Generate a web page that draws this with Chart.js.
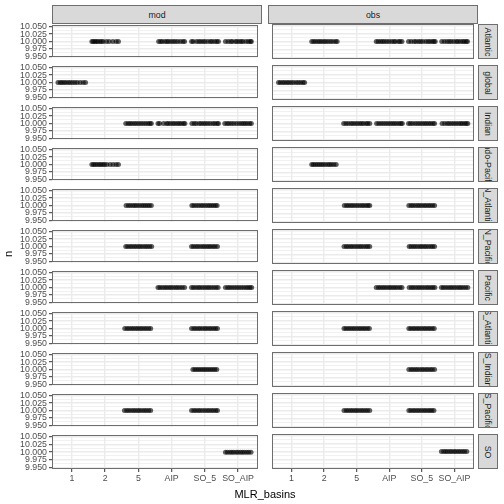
<!DOCTYPE html>
<html><head><meta charset="utf-8">
<script src="https://cdn.jsdelivr.net/npm/chart.js@4.4.1/dist/chart.umd.min.js"></script>
<style>
html,body{margin:0;padding:0;background:#fff;}
body{width:504px;height:504px;overflow:hidden;position:relative;font-family:"Liberation Sans",Arial,sans-serif;}
canvas{position:absolute;}
.strip{position:absolute;background:#d9d9d9;border:1px solid #6e6e6e;box-sizing:border-box;color:#1a1a1a;font-size:8.8px;overflow:hidden;white-space:nowrap;}
.strip span{position:absolute;left:50%;top:50%;transform:translate(-50%,-50%);}
.strip.v span{transform:translate(-50%,-50%) rotate(90deg);}
.title{position:absolute;color:#000;font-size:11px;white-space:nowrap;}
</style></head>
<body>
<script>
// ---- data ----
const categories = ['1','2','5','AIP','SO_5','SO_AIP'];
const facets = ['mod','obs'];
const basins = ['Atlantic','global','Indian','Indo-Pacific','N_Atlantic','N_Pacific','Pacific','S_Atlantic','S_Indian','S_Pacific','SO'];
const nValue = 10;
const yTicks = [9.95, 9.975, 10.0, 10.025, 10.05];

// categories present in each basin (same for mod and obs)
const catsAtlantic = ['2','AIP','SO_5','SO_AIP'];
const catsGlobal = ['1'];
const catsIndian = ['5','AIP','SO_5','SO_AIP'];
const catsIndoPacific = ['2'];
const catsNAtlantic = ['5','SO_5'];
const catsNPacific = ['5','SO_5'];
const catsPacific = ['AIP','SO_5','SO_AIP'];
const catsSAtlantic = ['5','SO_5'];
const catsSIndian = ['SO_5'];
const catsSPacific = ['5','SO_5'];
const catsSO = ['SO_AIP'];

// horizontal jitter of each point (category units), one list per category
const jitModAtlantic = [[-0.40,-0.36,-0.31,-0.27,-0.22,-0.16,-0.11,-0.06,0.04,0.12,0.23,0.33,0.40],[-0.39,-0.33,-0.28,-0.20,-0.14,-0.09,-0.02,0.05,0.11,0.18,0.26,0.34,0.39],[-0.40,-0.35,-0.25,-0.18,-0.12,-0.05,0.01,0.09,0.17,0.22,0.30,0.36,0.41],[-0.38,-0.30,-0.22,-0.17,-0.08,-0.03,0.04,0.10,0.15,0.24,0.31,0.37,0.40]];
const jitObsAtlantic = [[-0.38,-0.32,-0.26,-0.19,-0.13,-0.07,0.00,0.06,0.13,0.20,0.27,0.35,0.40],[-0.40,-0.34,-0.27,-0.21,-0.15,-0.08,-0.01,0.07,0.14,0.19,0.28,0.33,0.39],[-0.41,-0.33,-0.24,-0.18,-0.10,-0.04,0.03,0.12,0.19,0.25,0.32,0.37,0.41],[-0.39,-0.31,-0.23,-0.16,-0.10,-0.02,0.06,0.11,0.18,0.25,0.30,0.36,0.40]];
const jitModGlobal = [[-0.42,-0.35,-0.30,-0.24,-0.18,-0.11,-0.05,0.02,0.09,0.16,0.25,0.34,0.41]];
const jitObsGlobal = [[-0.40,-0.34,-0.27,-0.21,-0.14,-0.08,-0.01,0.06,0.14,0.21,0.28,0.35,0.40]];
const jitModIndian = [[-0.38,-0.31,-0.25,-0.19,-0.12,-0.06,0.01,0.08,0.15,0.22,0.29,0.35,0.39],[-0.41,-0.36,-0.24,-0.15,-0.10,-0.03,0.04,0.10,0.17,0.23,0.29,0.36,0.40],[-0.39,-0.32,-0.26,-0.17,-0.11,-0.04,0.02,0.09,0.16,0.24,0.30,0.37,0.41],[-0.40,-0.33,-0.27,-0.20,-0.13,-0.05,0.03,0.10,0.16,0.22,0.28,0.35,0.40]];
const jitObsIndian = [[-0.40,-0.33,-0.26,-0.18,-0.12,-0.05,0.02,0.09,0.15,0.21,0.29,0.34,0.40],[-0.39,-0.32,-0.25,-0.18,-0.11,-0.04,0.03,0.10,0.16,0.23,0.30,0.36,0.40],[-0.41,-0.35,-0.28,-0.20,-0.13,-0.06,0.01,0.08,0.14,0.21,0.27,0.34,0.39],[-0.38,-0.30,-0.22,-0.16,-0.09,-0.02,0.05,0.12,0.19,0.24,0.31,0.36,0.41]];
const jitModIndoPacific = [[-0.40,-0.35,-0.30,-0.24,-0.18,-0.13,-0.07,-0.02,0.05,0.15,0.24,0.33,0.40]];
const jitObsIndoPacific = [[-0.38,-0.33,-0.27,-0.21,-0.15,-0.09,-0.03,0.04,0.11,0.17,0.23,0.30,0.37]];
const jitModNAtlantic = [[-0.37,-0.30,-0.24,-0.17,-0.11,-0.05,0.02,0.09,0.15,0.21,0.27,0.33,0.39],[-0.39,-0.33,-0.26,-0.19,-0.12,-0.06,0.01,0.08,0.14,0.20,0.26,0.32,0.37]];
const jitObsNAtlantic = [[-0.38,-0.31,-0.25,-0.18,-0.12,-0.05,0.02,0.09,0.16,0.22,0.29,0.35,0.40],[-0.40,-0.33,-0.27,-0.20,-0.13,-0.07,0.00,0.07,0.13,0.20,0.26,0.33,0.39]];
const jitModNPacific = [[-0.38,-0.32,-0.25,-0.19,-0.12,-0.06,0.01,0.07,0.14,0.21,0.27,0.34,0.40],[-0.40,-0.34,-0.27,-0.21,-0.14,-0.07,-0.01,0.06,0.12,0.18,0.25,0.31,0.38]];
const jitObsNPacific = [[-0.39,-0.32,-0.26,-0.19,-0.13,-0.06,0.01,0.08,0.14,0.21,0.28,0.34,0.40],[-0.39,-0.33,-0.26,-0.20,-0.13,-0.06,0.00,0.07,0.13,0.20,0.27,0.33,0.39]];
const jitModPacific = [[-0.41,-0.35,-0.28,-0.21,-0.15,-0.08,-0.02,0.05,0.12,0.18,0.25,0.32,0.39],[-0.40,-0.34,-0.27,-0.20,-0.14,-0.07,0.00,0.07,0.13,0.20,0.27,0.34,0.40],[-0.38,-0.31,-0.25,-0.18,-0.11,-0.04,0.03,0.10,0.17,0.24,0.30,0.36,0.41]];
const jitObsPacific = [[-0.40,-0.33,-0.27,-0.20,-0.14,-0.07,0.00,0.06,0.13,0.19,0.26,0.33,0.39],[-0.39,-0.32,-0.26,-0.19,-0.12,-0.06,0.01,0.08,0.15,0.21,0.28,0.34,0.40],[-0.40,-0.34,-0.27,-0.20,-0.13,-0.07,0.00,0.07,0.14,0.20,0.27,0.34,0.41]];
const jitModSAtlantic = [[-0.41,-0.34,-0.28,-0.21,-0.15,-0.08,-0.02,0.05,0.11,0.18,0.24,0.31,0.37],[-0.40,-0.33,-0.27,-0.20,-0.14,-0.07,0.00,0.06,0.13,0.19,0.26,0.32,0.38]];
const jitObsSAtlantic = [[-0.39,-0.33,-0.26,-0.20,-0.13,-0.07,0.00,0.07,0.13,0.20,0.26,0.33,0.39],[-0.40,-0.34,-0.27,-0.21,-0.14,-0.08,-0.01,0.06,0.12,0.19,0.25,0.32,0.38]];
const jitModSIndian = [[-0.36,-0.30,-0.24,-0.18,-0.12,-0.06,0.00,0.06,0.12,0.18,0.24,0.30,0.36]];
const jitObsSIndian = [[-0.40,-0.33,-0.27,-0.20,-0.14,-0.07,0.00,0.06,0.13,0.19,0.26,0.32,0.39]];
const jitModSPacific = [[-0.42,-0.35,-0.29,-0.22,-0.15,-0.09,-0.02,0.04,0.11,0.18,0.24,0.31,0.37],[-0.40,-0.33,-0.27,-0.20,-0.14,-0.07,0.00,0.07,0.13,0.20,0.26,0.33,0.38]];
const jitObsSPacific = [[-0.39,-0.32,-0.26,-0.19,-0.13,-0.06,0.00,0.07,0.14,0.20,0.27,0.33,0.40],[-0.40,-0.34,-0.27,-0.21,-0.14,-0.08,-0.01,0.06,0.12,0.19,0.25,0.31,0.37]];
const jitModSO = [[-0.38,-0.32,-0.25,-0.19,-0.13,-0.06,0.00,0.07,0.13,0.19,0.26,0.32,0.39]];
const jitObsSO = [[-0.40,-0.33,-0.27,-0.21,-0.14,-0.08,-0.01,0.05,0.12,0.18,0.25,0.31,0.38]];

const basinCats = [catsAtlantic,catsGlobal,catsIndian,catsIndoPacific,catsNAtlantic,catsNPacific,catsPacific,catsSAtlantic,catsSIndian,catsSPacific,catsSO];
const jitMod = [jitModAtlantic,jitModGlobal,jitModIndian,jitModIndoPacific,jitModNAtlantic,jitModNPacific,jitModPacific,jitModSAtlantic,jitModSIndian,jitModSPacific,jitModSO];
const jitObs = [jitObsAtlantic,jitObsGlobal,jitObsIndian,jitObsIndoPacific,jitObsNAtlantic,jitObsNPacific,jitObsPacific,jitObsSAtlantic,jitObsSIndian,jitObsSPacific,jitObsSO];

// ---- layout ----
const FONT = 'Liberation Sans';
const PW = 210, PH = 35, PAD = 6;
const colX = [52, 268];
const rowTop = r => 24 + 41 * r;
const isMajor = v => Math.abs((v - 9.95) / 0.025 - Math.round((v - 9.95) / 0.025)) < 1e-6;

const borderPlugin = {
  id: 'panelBorder',
  afterDraw(chart) {
    const a = chart.chartArea, ctx = chart.ctx;
    ctx.save();
    ctx.strokeStyle = '#6e6e6e';
    ctx.lineWidth = 1;
    ctx.strokeRect(Math.round(a.left) + 0.5, Math.round(a.top) + 0.5, Math.round(a.right - a.left) - 1, Math.round(a.bottom - a.top) - 1);
    ctx.restore();
  }
};

function addDiv(cls, text, l, t, w, h) {
  const d = document.createElement('div');
  d.className = cls;
  d.style.left = l + 'px'; d.style.top = t + 'px';
  d.style.width = w + 'px'; d.style.height = h + 'px';
  const s = document.createElement('span'); s.textContent = text; d.appendChild(s);
  document.body.appendChild(d);
}

// top strips
facets.forEach((f, c) => addDiv('strip', f, colX[c], 5, PW, 19));
// right strips
basins.forEach((b, r) => addDiv('strip v', b, 478, rowTop(r), 20, PH));

basins.forEach((basin, r) => {
  facets.forEach((facet, c) => {
    const isLeft = c === 0, isBottom = r === basins.length - 1;
    const axisW = isLeft ? 52 : 0;
    const axisH = isBottom ? 15 : 0;
    const cw = PW + axisW, ch = PAD + PH + (isBottom ? axisH : PAD);
    const cv = document.createElement('canvas');
    cv.width = cw; cv.height = ch;
    cv.style.width = cw + 'px'; cv.style.height = ch + 'px';
    cv.style.left = (colX[c] - axisW) + 'px';
    cv.style.top = (rowTop(r) - PAD) + 'px';
    document.body.appendChild(cv);

    const jit = (c === 0 ? jitMod : jitObs)[r];
    const pts = [];
    basinCats[r].forEach((cat, k) => {
      const xi = categories.indexOf(cat) + 1;
      jit[k].forEach(o => pts.push({x: xi + o, y: nValue}));
    });

    new Chart(cv, {
      type: 'scatter',
      data: {datasets: [{data: pts, backgroundColor: 'rgba(0,0,0,0.62)', pointRadius: 2.5, pointBorderWidth: 0, borderWidth: 0}]},
      options: {
        responsive: false, animation: false, events: [],
        layout: {padding: {top: PAD, bottom: isBottom ? 0 : PAD, left: 0, right: 0}},
        plugins: {legend: {display: false}, tooltip: {enabled: false}},
        scales: {
          x: {
            type: 'linear', min: 0.4, max: 6.6,
            afterBuildTicks: s => { s.ticks = categories.map((_, i) => ({value: i + 1})); },
            afterFit: s => { s.height = axisH; },
            grid: {color: '#ebebeb', lineWidth: 1.4, drawTicks: isBottom, tickLength: 3, tickColor: '#333', tickWidth: 1},
            border: {display: false},
            ticks: {display: isBottom, autoSkip: false, maxRotation: 0, padding: 1, color: '#4d4d4d', font: {family: FONT, size: 8.8},
              callback: v => categories[Math.round(v) - 1]}
          },
          y: {
            type: 'linear', min: 9.945, max: 10.055,
            afterBuildTicks: s => { const t = []; for (let i = 0; i <= 8; i++) t.push({value: 9.95 + i * 0.0125}); s.ticks = t; },
            afterFit: s => { s.width = axisW; },
            grid: {
              color: '#ebebeb',
              lineWidth: ctx => (ctx.tick && isMajor(ctx.tick.value)) ? 1.4 : 0.7,
              drawTicks: isLeft, tickLength: 3,
              tickColor: ctx => (ctx.tick && isMajor(ctx.tick.value)) ? '#333' : 'rgba(0,0,0,0)',
              tickWidth: 1
            },
            border: {display: false},
            ticks: {display: isLeft, autoSkip: false, padding: 2, color: '#4d4d4d', font: {family: FONT, size: 8.8},
              callback: v => isMajor(v) ? v.toFixed(3) : ''}
          }
        }
      },
      plugins: [borderPlugin]
    });
  });
});

// axis titles
const xt = document.createElement('div');
xt.className = 'title'; xt.textContent = 'MLR_basins';
xt.style.left = '265px'; xt.style.top = '494px'; xt.style.transform = 'translate(-50%,-50%)';
document.body.appendChild(xt);
const yt = document.createElement('div');
yt.className = 'title'; yt.textContent = 'n';
yt.style.left = '8px'; yt.style.top = '254px'; yt.style.transform = 'translate(-50%,-50%) rotate(-90deg)';
document.body.appendChild(yt);
</script>
</body></html>
